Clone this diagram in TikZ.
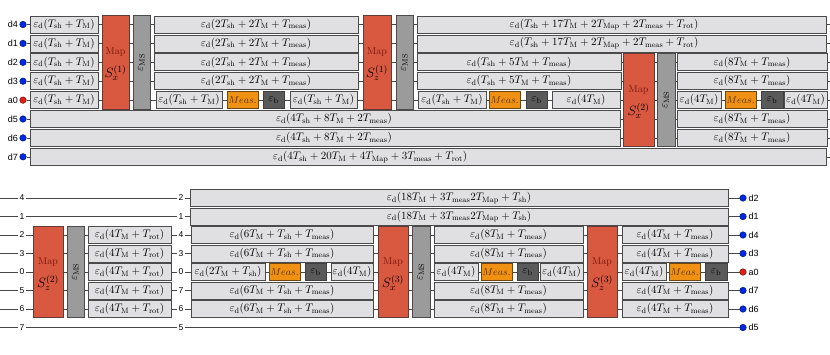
\RequirePackage{fix-cm}
\documentclass[tikz,border=0pt]{standalone}
\usepackage{fontspec}
\newfontfamily\labfont{Liberation Sans}
\usetikzlibrary{backgrounds}
\definecolor{boxfill}{RGB}{224,224,226}
\definecolor{boxline}{RGB}{75,75,75}
\definecolor{mapfill}{RGB}{217,88,64}
\definecolor{mapline}{RGB}{95,60,55}
\definecolor{maptext}{RGB}{120,25,15}
\definecolor{msfill}{RGB}{155,155,155}
\definecolor{measfill}{RGB}{240,145,20}
\definecolor{measline}{RGB}{110,70,20}
\definecolor{meastext}{RGB}{80,50,0}
\definecolor{ebfill}{RGB}{90,90,90}
\definecolor{wirec}{RGB}{70,70,70}
\definecolor{dotblue}{RGB}{0,40,230}
\definecolor{dotred}{RGB}{230,30,20}
\newcommand{\ed}{\varepsilon_{\mathrm{d}}}
\newcommand{\Tsh}{T_{\mathrm{sh}}}
\newcommand{\TMM}{T_{\mathrm{M}}}
\newcommand{\Tmeas}{T_{\mathrm{meas}}}
\newcommand{\Tmap}{T_{\mathrm{Map}}}
\newcommand{\Trot}{T_{\mathrm{rot}}}
\tikzset{
  bx/.style={rectangle, draw=boxline, fill=boxfill, line width=0.7pt, inner sep=0pt, minimum height=17pt},
  measbx/.style={bx, draw=measline, fill=measfill, text=meastext, font=\fontsize{10}{12}\selectfont},
  ebbx/.style={bx, fill=ebfill, draw=black!75},
  mapbx/.style={rectangle, draw=mapline, fill=mapfill, line width=0.7pt, inner sep=0pt, align=center},
  msbx/.style={rectangle, draw=boxline, fill=msfill, line width=0.7pt, inner sep=0pt},
  wire/.style={draw=wirec, line width=0.6pt},
  qdot/.style={circle, draw=black!50!dotblue, fill=dotblue, minimum size=6.5pt, inner sep=0pt, line width=0.5pt},
  rdot/.style={qdot, draw=black!50!dotred, fill=dotred},
  lab/.style={font=\labfont\fontsize{9}{10}\selectfont, inner sep=0.5pt},
  num/.style={font=\labfont\fontsize{8.5}{10}\selectfont, fill=white, inner sep=1.2pt},
}
% \bx[style]{name}{x1}{x2}{y}{text}
\newcommand{\bx}[6][bx]{\node[#1, minimum width={(#4-#3)*1pt}] (#2) at ({(#3+#4)/2},#5) {#6};}
% \bxt{name}{x1}{x2}{y}{textx}{text}
\newcommand{\bxt}[6]{\node[bx, minimum width={(#3-#2)*1pt}] (#1) at ({(#2+#3)/2},#4) {};
  \node[inner sep=0pt] (#1-t) at (#5,#4) {#6};}
% \mapb{name}{x1}{x2}{y1}{y2}{S}
\newcommand{\mapb}[6]{\node[mapbx, minimum width={(#3-#2)*1pt}, minimum height={(#5-#4)*1pt}] (#1) at ({(#2+#3)/2},{(#4+#5)/2}) {};
  \node[inner sep=0pt, text=maptext, font=\fontsize{10}{12}\selectfont] (#1-m) at ([yshift=10pt]#1.center) {Map};
  \node[inner sep=0pt, font=\fontsize{13.5}{16}\selectfont] (#1-s) at ([yshift=-11pt]#1.center) {#6};}
% \msb{name}{x1}{x2}{y1}{y2}
\newcommand{\msb}[5]{\node[msbx, minimum width={(#3-#2)*1pt}, minimum height={(#5-#4)*1pt}] (#1) at ({(#2+#3)/2},{(#4+#5)/2}) {};
  \node[rotate=90, inner sep=0pt] (#1-t) at (#1) {$\varepsilon_{\mathrm{MS}}$};}
\begin{document}
\begin{tikzpicture}[x=1pt,y=-1pt,font=\fontsize{11}{13}\selectfont]
\useasboundingbox (0,0) rectangle (830,354);
% ---------------- top part ----------------
\foreach \n/\y in {d4/24.5,d1/43.4,d2/62.3,d3/81.2,d5/119,d6/137.9,d7/156.8}{
  \node[qdot] (q\n) at (23,\y) {};
  \node[lab, anchor=east] (l\n) at (18.5,\y) {\n};
  \coordinate (e\n) at (830,\y);
}
\node[rdot] (qa0) at (23,100.1) {};
\node[lab, anchor=east] (la0) at (18.5,100.1) {a0};
\coordinate (ea0) at (830,100.1);
% column 1
\foreach \y [count=\i] in {24.5,43.4,62.3,81.2,100.1}{
  \bx{ta\i}{30}{98}{\y}{$\ed(\Tsh+\TMM)$}
}
\mapb{mapA}{102}{129}{15.75}{108.85}{$S_x^{(1)}$}
\msb{msA}{133}{150}{15.75}{108.85}
% column 2
\foreach \y [count=\i] in {24.5,43.4,62.3,81.2}{
  \bx{tb\i}{154}{358}{\y}{$\ed(2\Tsh+2\TMM+\Tmeas)$}
}
\bx{tb5a}{156}{222}{100.1}{$\ed(\Tsh+\TMM)$}
\bx[measbx]{tb5b}{227}{258}{100.1}{$Meas.$}
\bx[ebbx]{tb5c}{263}{284}{100.1}{$\varepsilon_{\mathrm{b}}$}
\bx{tb5d}{290}{357}{100.1}{$\ed(\Tsh+\TMM)$}
\mapb{mapB}{363}{391}{15.75}{108.85}{$S_z^{(1)}$}
\msb{msB}{396}{413}{15.75}{108.85}
% column 3
\bxt{tc1}{417}{826}{24.5}{604}{$\ed(\Tsh+17\TMM+2\Tmap+2\Tmeas+\Trot)$}
\bxt{tc2}{417}{826}{43.4}{604}{$\ed(\Tsh+17\TMM+2\Tmap+2\Tmeas+\Trot)$}
\bx{tc3}{417}{621}{62.3}{$\ed(\Tsh+5\TMM+\Tmeas)$}
\bx{tc4}{417}{621}{81.2}{$\ed(\Tsh+5\TMM+\Tmeas)$}
\bx{tc5a}{418}{486}{100.1}{$\ed(\Tsh+\TMM)$}
\bx[measbx]{tc5b}{489}{520}{100.1}{$Meas.$}
\bx[ebbx]{tc5c}{526}{547}{100.1}{$\varepsilon_{\mathrm{b}}$}
\bx{tc5d}{552}{620}{100.1}{$\ed(4\TMM)$}
\bxt{tc6}{30}{620}{119}{334}{$\ed(4\Tsh+8\TMM+2\Tmeas)$}
\bxt{tc7}{30}{620}{137.9}{334}{$\ed(4\Tsh+8\TMM+2\Tmeas)$}
\bxt{tc8}{30}{826}{156.8}{370}{$\ed(4\Tsh+20\TMM+4\Tmap+3\Tmeas+\Trot)$}
\mapb{mapC}{623}{654}{53.5}{146.6}{$S_x^{(2)}$}
\msb{msC}{657}{675}{53.5}{146.6}
% column 4
\bx{td3}{677}{827}{62.3}{$\ed(8\TMM+\Tmeas)$}
\bx{td4}{677}{827}{81.2}{$\ed(8\TMM+\Tmeas)$}
\bx{td5a}{677}{721}{100.1}{$\ed(4\TMM)$}
\bx[measbx]{td5b}{725}{756}{100.1}{$Meas.$}
\bx[ebbx]{td5c}{761}{783}{100.1}{$\varepsilon_{\mathrm{b}}$}
\bx{td5d}{784}{827}{100.1}{$\ed(4\TMM)$}
\bx{td6}{677}{827}{119}{$\ed(8\TMM+\Tmeas)$}
\bx{td7}{677}{827}{137.9}{$\ed(8\TMM+\Tmeas)$}
% ---------------- bottom part ----------------
\foreach \y/\a/\b/\d [count=\i] in {198/4/2/d2,216.5/1/1/d1,235/2/4/d4,253.5/3/3/d3,290.5/5/7/d7,309/6/6/d6,327.5/7/5/d5}{
  \coordinate (s\i) at (0,\y);
  \node[num] (na\i) at (22,\y) {\a};
  \node[num] (nb\i) at (181,\y) {\b};
  \node[qdot] (p\d) at (743,\y) {};
  \node[lab, anchor=west] (m\d) at (748,\y) {\d};
}
\coordinate (s0) at (0,272);
\node[num] (na0) at (22,272) {0};
\node[num] (nb0) at (181,272) {0};
\node[rdot] (pa0) at (743,272) {};
\node[lab, anchor=west] (ma0) at (748,272) {a0};
% long boxes
\bx{ba1}{190}{728}{198}{$\ed(18\TMM+3\Tmeas 2\Tmap+\Tsh)$}
\bx{ba2}{190}{728}{216.5}{$\ed(18\TMM+3\Tmeas 2\Tmap+\Tsh)$}
% first block
\mapb{mapD}{33}{63}{226.25}{317.75}{$S_z^{(2)}$}
\msb{msD}{67}{84}{226.25}{317.75}
\foreach \y [count=\i] in {235,253.5,272,290.5,309}{
  \bx{bb\i}{88}{171}{\y}{$\ed(4\TMM+\Trot)$}
}
% second block
\foreach \y/\i in {235/1,253.5/2,290.5/4,309/5}{
  \bx{bc\i}{191}{373}{\y}{$\ed(6\TMM+\Tsh+\Tmeas)$}
}
\bx{bc3a}{191}{265}{272}{$\ed(2\TMM+\Tsh)$}
\bx[measbx]{bc3b}{269}{300}{272}{$Meas.$}
\bx[ebbx]{bc3c}{305}{326}{272}{$\varepsilon_{\mathrm{b}}$}
\bx{bc3d}{331}{373}{272}{$\ed(4\TMM)$}
\mapb{mapE}{378}{408}{226.25}{317.75}{$S_x^{(3)}$}
\msb{msE}{412}{430}{226.25}{317.75}
% third block
\foreach \y/\i in {235/1,253.5/2,290.5/4,309/5}{
  \bx{bd\i}{434}{583}{\y}{$\ed(8\TMM+\Tmeas)$}
}
\bx{bd3a}{434}{478}{272}{$\ed(4\TMM)$}
\bx[measbx]{bd3b}{481}{512}{272}{$Meas.$}
\bx[ebbx]{bd3c}{517}{538}{272}{$\varepsilon_{\mathrm{b}}$}
\bx{bd3d}{540}{583}{272}{$\ed(4\TMM)$}
\mapb{mapF}{587}{617}{226.25}{317.75}{$S_z^{(3)}$}
% fourth block
\foreach \y/\i in {235/1,253.5/2,290.5/4,309/5}{
  \bx{be\i}{622}{728}{\y}{$\ed(4\TMM+\Tmeas)$}
}
\bx{be3a}{622}{666}{272}{$\ed(4\TMM)$}
\bx[measbx]{be3b}{669}{700}{272}{$Meas.$}
\bx[ebbx]{be3c}{705}{727}{272}{$\varepsilon_{\mathrm{b}}$}
% ---------------- wires ----------------
\begin{scope}[on background layer]
  \foreach \n in {d4,d1,d2,d3,a0,d5,d6,d7}{ \draw[wire] (q\n) -- (e\n); }
  \draw[wire] (s1) -- (pd2);
  \draw[wire] (s2) -- (pd1);
  \draw[wire] (s3) -- (pd4);
  \draw[wire] (s4) -- (pd3);
  \draw[wire] (s0) -- (pa0);
  \draw[wire] (s5) -- (pd7);
  \draw[wire] (s6) -- (pd6);
  \draw[wire] (s7) -- (pd5);
\end{scope}
\end{tikzpicture}
\end{document}
